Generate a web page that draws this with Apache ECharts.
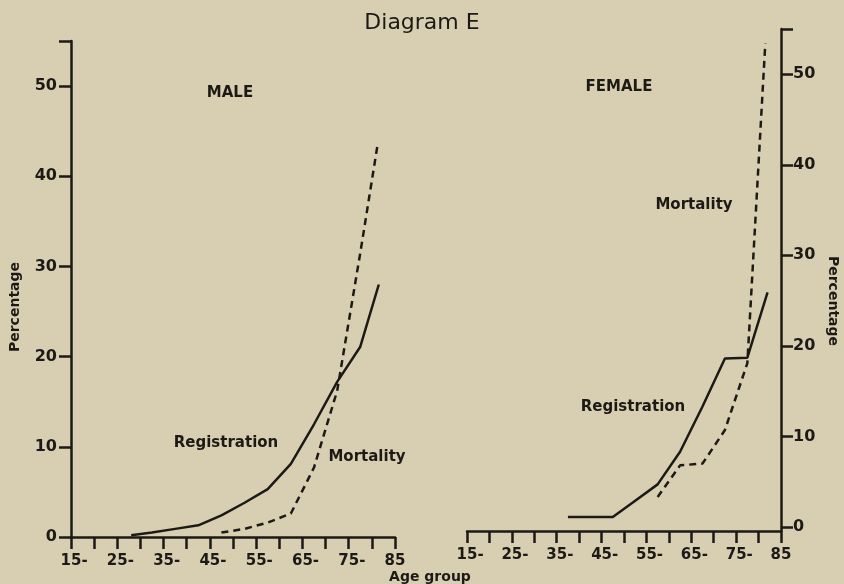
<!DOCTYPE html>
<html>
<head>
<meta charset="utf-8">
<script src="https://cdn.jsdelivr.net/npm/echarts@6/dist/echarts.min.js"></script>
<style>
html,body{margin:0;padding:0;background:#d8cfb3;}
#c{width:844px;height:584px;}
</style>
</head>
<body>
<div id="c"></div>
<script>
// ---- data ----
const xTickValues = [15,20,25,30,35,40,45,50,55,60,65,70,75,80,85];
const xLabelValues = [15,25,35,45,55,65,75,85];
const yTickValues = [0,10,20,30,40,50,55];
const yLabelValues = [0,10,20,30,40,50];

const maleRegAges = [28,32.5,37.5,42.5,47.5,52.5,57.5,62.5,67.5,72.5,77.5,81.5];
const maleRegistration = [0.2,0.5,0.9,1.3,2.4,3.8,5.3,8.1,12.5,17.2,21.1,28.0];
const maleMortAges = [47.5,52.5,57.5,62.5,67.5,72.5,77.5,81.3];
const maleMortality = [0.5,0.9,1.6,2.6,7.7,16.2,31.5,43.7];

const femRegAges = [37.5,42.5,47.5,52.5,57.5,62.5,67.5,72.5,77.5,82];
const femaleRegistration = [1.1,1.1,1.1,2.9,4.7,8.3,13.3,18.6,18.7,25.9];
const femMortAges = [57.5,62.5,67.5,72.5,77.5,81.5];
const femaleMortality = [3.3,6.8,7.0,10.7,18.1,53.4];

// ---- styling ----
const INK = '#1d1a16';
const FONT = 'DejaVu Sans';
function pairs(xs, ys){ return xs.map((x,i)=>[x, ys[i]]); }

const xLabelRich = {
  n:{fontFamily:FONT,fontSize:15,fontWeight:'bold',color:INK},
  d:{fontFamily:FONT,fontSize:15,fontWeight:'bold',color:INK},
  h:{fontFamily:FONT,fontSize:15,fontWeight:'bold',color:'rgba(0,0,0,0)'}
};
function xFmt(v){ return v === 85 ? '{n|85}' : '{h|-}{n|' + v + '}{d|-}'; }

function xAxisCfg(gridIndex, offset){
  return {
    type:'value', gridIndex, min:15, max:85, offset,
    axisLine:{show:true,onZero:false,lineStyle:{color:INK,width:2.5}},
    axisTick:{show:true,length:12,inside:false,customValues:xTickValues,lineStyle:{color:INK,width:2.5}},
    axisLabel:{show:true,margin:17,customValues:xLabelValues,formatter:xFmt,rich:xLabelRich},
    splitLine:{show:false}
  };
}
function yAxisCfg(gridIndex, position, min, margin){
  return {
    type:'value', gridIndex, position, min, max:55,
    axisLine:{show:true,onZero:false,lineStyle:{color:INK,width:2.5}},
    axisTick:{show:true,length:12,inside:false,customValues:yTickValues,lineStyle:{color:INK,width:2.5}},
    axisLabel:{show:true,margin,customValues:yLabelValues,fontFamily:FONT,fontSize:16,fontWeight:'bold',color:INK},
    splitLine:{show:false}
  };
}
function lineSeries(xi, data, dashed){
  return {
    type:'line', xAxisIndex:xi, yAxisIndex:xi, data, showSymbol:false, symbol:'none',
    silent:true, animation:false,
    lineStyle:{color:INK,width:2.5,type: dashed ? [7,5] : 'solid'}
  };
}
function txt(text, x, y, size, weight, rot){
  return {
    type:'text', x, y, rotation: rot || 0, silent:true,
    style:{text, x:0, y:0, fill:INK, font: (weight||'bold') + ' ' + size + 'px "' + FONT + '"',
           textAlign:'center', textVerticalAlign:'middle'}
  };
}

const chart = echarts.init(document.getElementById('c'), null, {renderer:'canvas'});
chart.setOption({
  backgroundColor:'#d8cfb3',
  animation:false,
  grid:[
    {left:71, top:41, width:324, height:496, containLabel:false, outerBoundsMode:'none'},
    {left:467, top:29, width:314, height:502, containLabel:false, outerBoundsMode:'none'}
  ],
  xAxis:[ xAxisCfg(0, 0), xAxisCfg(1, 0) ],
  yAxis:[ yAxisCfg(0, 'left', 0, 14), yAxisCfg(1, 'right', -0.45, 12) ],
  series:[
    lineSeries(0, pairs(maleRegAges, maleRegistration), false),
    lineSeries(0, pairs(maleMortAges, maleMortality), true),
    lineSeries(1, pairs(femRegAges, femaleRegistration), false),
    lineSeries(1, pairs(femMortAges, femaleMortality), true)
  ],
  graphic:[
    txt('Diagram E', 422, 23, 22, 'normal'),
    txt('MALE', 230, 93, 15),
    txt('FEMALE', 619, 87, 15),
    txt('Registration', 226, 443, 15),
    txt('Mortality', 367, 457, 15),
    txt('Registration', 633, 407, 15),
    txt('Mortality', 694, 205, 15),
    txt('Percentage', 15, 307, 14, 'bold', Math.PI/2),
    txt('Percentage', 833, 301, 14, 'bold', -Math.PI/2),
    txt('Age group', 430, 577, 14)
  ]
});
</script>
</body>
</html>
